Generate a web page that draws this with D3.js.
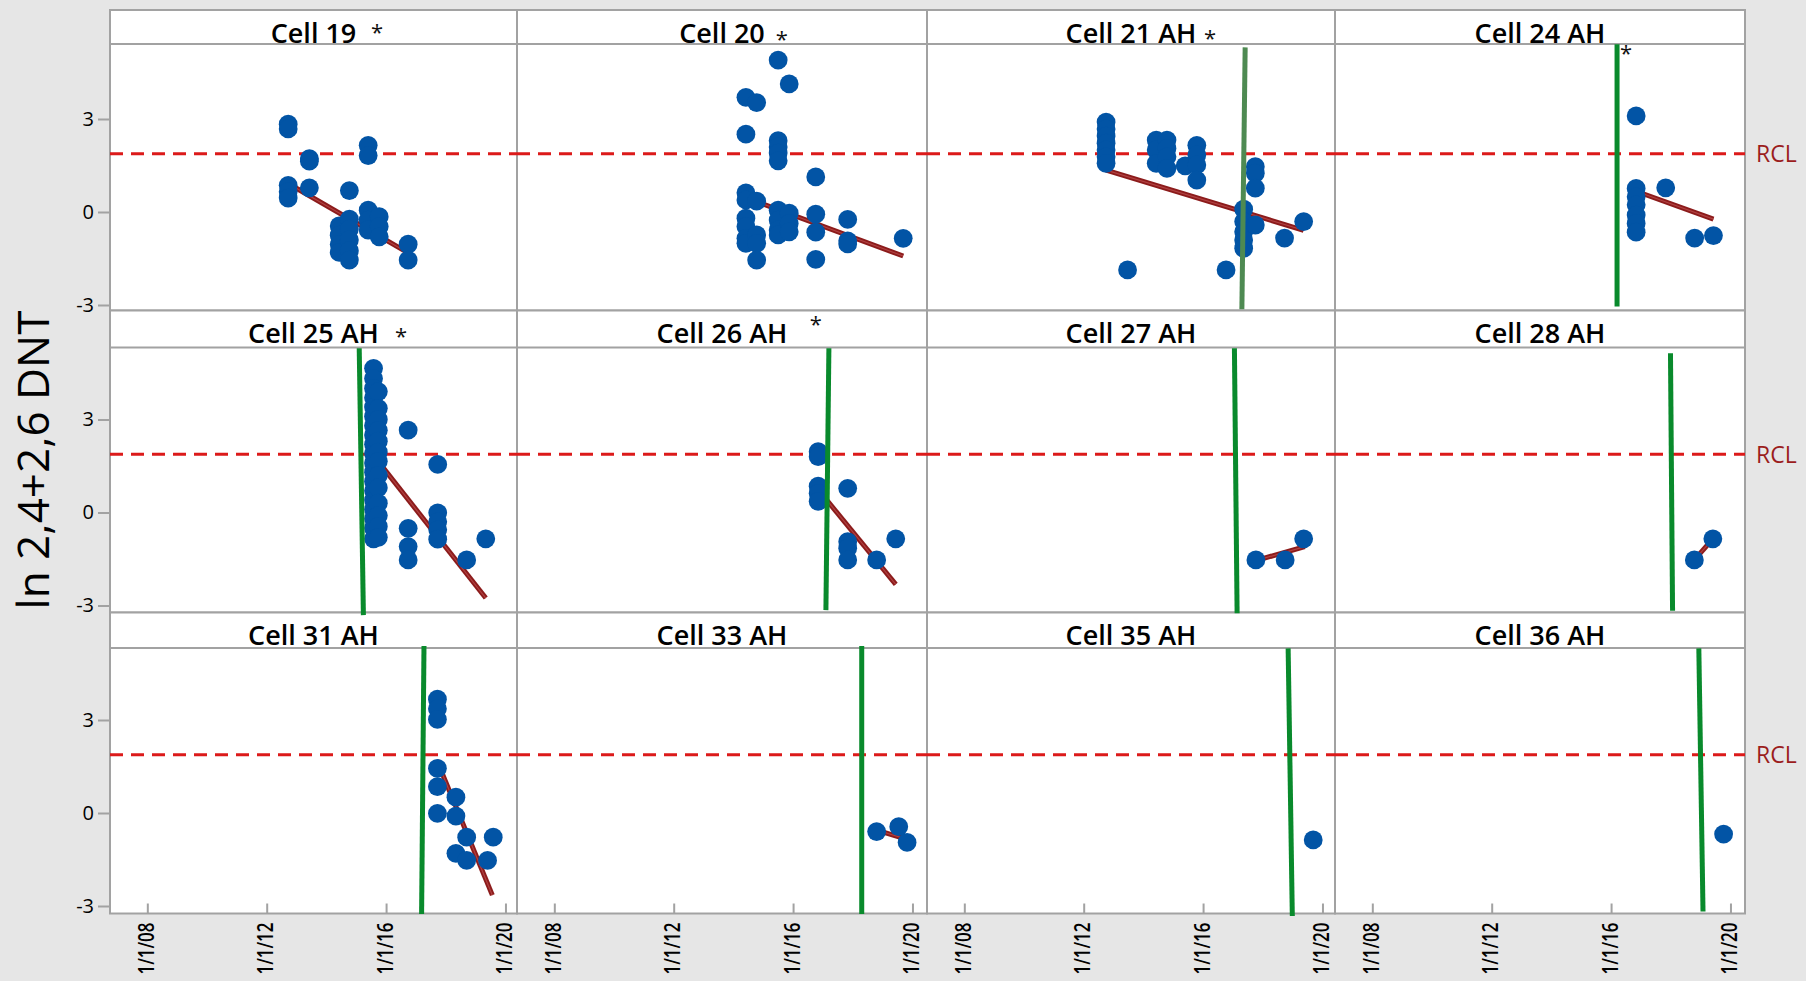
<!DOCTYPE html>
<html>
<head>
<meta charset="utf-8">
<script src="https://cdn.jsdelivr.net/npm/d3@7"></script>
<style>
  html, body { margin: 0; padding: 0; background: #e6e6e6; }
  svg { display: block; font-family: "Open Sans", "Noto Sans", sans-serif; }
</style>
</head>
<body>
<svg id="chart" width="1806" height="981"></svg>
<script>
// ---- data -------------------------------------------------------------
const cells = ["Cell 19", "Cell 20", "Cell 21 AH", "Cell 24 AH",
               "Cell 25 AH", "Cell 26 AH", "Cell 27 AH", "Cell 28 AH",
               "Cell 31 AH", "Cell 33 AH", "Cell 35 AH", "Cell 36 AH"];

// [decimal year, ln(2,4+2,6 DNT)]
const cell19 = [[2012.72, 2.83], [2012.72, 2.68], [2012.72, 0.86], [2012.72, 0.65], [2012.72, 0.45],
  [2013.43, 1.72], [2013.43, 1.64], [2013.43, 0.78],
  [2014.43, -0.45], [2014.43, -0.75], [2014.43, -1.05], [2014.43, -1.30],
  [2014.77, 0.69], [2014.77, -0.23], [2014.77, -0.55], [2014.77, -0.90], [2014.77, -1.25], [2014.77, -1.55],
  [2015.40, 2.15], [2015.40, 1.82], [2015.40, 0.06], [2015.40, -0.26], [2015.40, -0.58],
  [2015.77, -0.15], [2015.77, -0.47], [2015.77, -0.80],
  [2016.74, -1.04], [2016.74, -1.55]];
const cell20 = [[2015.50, 4.90], [2015.87, 4.13], [2014.42, 3.70], [2014.78, 3.53], [2014.42, 2.51],
  [2015.50, 2.30], [2015.50, 2.10], [2015.50, 1.90], [2015.50, 1.65], [2016.76, 1.13],
  [2014.42, 0.62], [2014.42, 0.39], [2014.42, -0.20], [2014.42, -0.47], [2014.42, -0.85], [2014.42, -1.01],
  [2014.78, 0.35], [2014.78, -0.74], [2014.78, -1.01], [2014.78, -1.55],
  [2015.50, 0.06], [2015.50, -0.26], [2015.50, -0.58], [2015.50, -0.74],
  [2015.87, -0.04], [2015.87, -0.37], [2015.87, -0.64],
  [2016.76, -0.07], [2016.76, -0.65], [2016.76, -1.53],
  [2017.83, -0.24], [2017.83, -0.93], [2017.83, -1.03], [2019.69, -0.85]];
const cell21 = [[2012.75, 2.90], [2012.75, 2.68], [2012.75, 2.45], [2012.75, 2.22], [2012.75, 2.00], [2012.75, 1.78], [2012.75, 1.57],
  [2014.43, 2.32], [2014.43, 2.00], [2014.43, 1.57],
  [2014.79, 2.32], [2014.79, 2.05], [2014.79, 1.78], [2014.79, 1.41],
  [2015.40, 1.49], [2015.79, 2.15], [2015.79, 1.84], [2015.79, 1.52], [2015.79, 1.03],
  [2013.47, -1.87], [2016.77, -1.87],
  [2017.75, 1.46], [2017.75, 1.25], [2017.75, 0.77],
  [2017.36, 0.09], [2017.36, -0.31], [2017.36, -0.64], [2017.36, -0.90], [2017.36, -1.17],
  [2017.75, -0.42], [2018.73, -0.84], [2019.37, -0.31]];
const cell24 = [[2016.84, 3.10], [2016.84, 0.76], [2016.84, 0.49], [2016.84, 0.23], [2016.84, -0.10], [2016.84, -0.37], [2016.84, -0.65],
  [2017.83, 0.78], [2018.80, -0.84], [2019.43, -0.76]];
const cell25 = [[2015.58, 4.65], [2015.58, 4.32], [2015.58, 4.00], [2015.58, 3.70], [2015.58, 3.40], [2015.58, 3.10],
  [2015.58, 2.80], [2015.58, 2.50], [2015.58, 2.20], [2015.58, 1.90], [2015.58, 1.60], [2015.58, 1.30],
  [2015.58, 1.00], [2015.58, 0.70], [2015.58, 0.40], [2015.58, 0.10], [2015.58, -0.20], [2015.58, -0.50], [2015.58, -0.85],
  [2015.74, 3.90], [2015.74, 3.36], [2015.74, 3.00], [2015.74, 2.65], [2015.74, 2.30], [2015.74, 1.95], [2015.74, 1.65],
  [2015.74, 1.20], [2015.74, 0.80], [2015.74, 0.30], [2015.74, -0.10], [2015.74, -0.45], [2015.74, -0.80],
  [2016.74, 2.66], [2017.73, 1.55], [2016.74, -0.51], [2016.74, -1.10], [2016.74, -1.53],
  [2017.73, -0.01], [2017.73, -0.30], [2017.73, -0.56], [2017.73, -0.86], [2018.70, -1.53], [2019.34, -0.85]];
const cell26 = [[2016.84, 1.96], [2016.84, 1.80], [2016.84, 0.85], [2016.84, 0.62], [2016.84, 0.36],
  [2017.83, 0.78], [2017.83, -0.94], [2017.83, -1.15], [2017.83, -1.53], [2018.80, -1.53], [2019.44, -0.85]];
const cell27 = [[2017.77, -1.53], [2018.75, -1.53], [2019.37, -0.85]];
const cell28 = [[2018.79, -1.53], [2019.41, -0.85]];
const cell31 = [[2017.72, 3.67], [2017.72, 3.36], [2017.72, 3.02], [2017.72, 1.44], [2017.72, 0.85], [2017.72, -0.01],
  [2018.34, 0.51], [2018.34, -0.10], [2018.34, -1.30], [2018.70, -0.78], [2018.70, -1.53],
  [2019.40, -1.53], [2019.59, -0.78]];
const cell33 = [[2018.80, -0.60], [2019.54, -0.44], [2019.82, -0.95]];
const cell35 = [[2019.69, -0.87]];
const cell36 = [[2019.77, -0.68]];

// trend segments: [cell, year0, value0, year1, value1]
const trendLines = [
  ["Cell 19", 2012.72, 0.92, 2016.74, -1.32],
  ["Cell 20", 2014.42, 0.46, 2019.69, -1.42],
  ["Cell 21 AH", 2012.75, 1.35, 2019.37, -0.59],
  ["Cell 24 AH", 2016.84, 0.67, 2019.43, -0.23],
  ["Cell 25 AH", 2015.57, 1.85, 2019.34, -2.76],
  ["Cell 26 AH", 2016.84, 0.74, 2019.44, -2.32],
  ["Cell 27 AH", 2017.77, -1.55, 2019.41, -1.10],
  ["Cell 28 AH", 2018.79, -1.53, 2019.41, -0.85],
  ["Cell 31 AH", 2017.70, 1.70, 2019.56, -2.65],
  ["Cell 33 AH", 2018.80, -0.55, 2019.82, -0.85]
];

// change markers: [cell, yearTop, valueTop, yearBottom, valueBottom]
const changeLines = [
  ["Cell 21 AH", 2017.41, 5.31, 2017.30, -3.14],
  ["Cell 24 AH", 2016.20, 5.41, 2016.20, -3.05],
  ["Cell 25 AH", 2015.10, 5.30, 2015.24, -3.31],
  ["Cell 26 AH", 2017.20, 5.30, 2017.10, -3.15],
  ["Cell 27 AH", 2017.05, 5.30, 2017.14, -3.25],
  ["Cell 28 AH", 2017.99, 5.14, 2018.06, -3.17],
  ["Cell 31 AH", 2017.27, 5.39, 2017.19, -3.26],
  ["Cell 33 AH", 2018.30, 5.39, 2018.30, -3.26],
  ["Cell 35 AH", 2018.85, 5.31, 2018.99, -3.32],
  ["Cell 36 AH", 2018.94, 5.31, 2019.08, -3.18]
];

// asterisk flags: [cell, year, value]
const flags = [
  ["Cell 19", 2015.70, 5.94],
  ["Cell 20", 2015.62, 5.71],
  ["Cell 21 AH", 2016.23, 5.76],
  ["Cell 24 AH", 2016.50, 5.28],
  ["Cell 25 AH", 2016.50, 5.83],
  ["Cell 26 AH", 2016.76, 6.21]
];

const rcl = 1.88;
const yTicks = [-3, 0, 3];
const yTickLabels = ["-3", "0", "3"];
const xTicks = [2008, 2012, 2016, 2020];
const xTickLabels = ["1/1/08", "1/1/12", "1/1/16", "1/1/20"];
const yTitle = "ln 2,4+2,6 DNT";

const pointsByCell = new Map([
  ["Cell 19", cell19], ["Cell 20", cell20], ["Cell 21 AH", cell21], ["Cell 24 AH", cell24],
  ["Cell 25 AH", cell25], ["Cell 26 AH", cell26], ["Cell 27 AH", cell27], ["Cell 28 AH", cell28],
  ["Cell 31 AH", cell31], ["Cell 33 AH", cell33], ["Cell 35 AH", cell35], ["Cell 36 AH", cell36]
]);

// ---- layout -----------------------------------------------------------
const W = 1806, H = 981;
const colLeft = [110, 517, 927, 1335];
const colRight = [517, 927, 1335, 1745];
const stripTop = [10, 310.5, 612.5];
const dataTop = [44, 347.5, 648];
const dataBottom = [310.5, 612.5, 913.5];
const tickTopY = [119, 419.5, 720];   // pixel row of the upper (3) tick in each row
const unitPx = 31;

const frameColor = "#a2a2a2";
const pointColor = "#0254a5";
const trendColor = "#8c1b1b";
const rclColor = "#dc1a1a";
const greenColor = "#098a2c";
const greenMuted = "#4e8a52";
const fontStack = "'Open Sans','Noto Sans',sans-serif";

const xScales = colLeft.map(l => d3.scaleLinear().domain([2006.75, 2020.42]).range([l, l + 408]));
const yScales = tickTopY.map(t => d3.scaleLinear().domain([-3, 3]).range([t + 6 * unitPx, t]));

const svg = d3.select("#chart");
svg.append("rect").attr("width", W).attr("height", H).attr("fill", "#e6e6e6");

const panelInfo = cells.map((name, i) => {
  const r = Math.floor(i / 4), c = i % 4;
  return { name, r, c, x: xScales[c], y: yScales[r] };
});

// panel backgrounds and frames
const frames = svg.append("g");
panelInfo.forEach(p => {
  frames.append("rect")
    .attr("x", colLeft[p.c]).attr("y", stripTop[p.r])
    .attr("width", colRight[p.c] - colLeft[p.c]).attr("height", dataBottom[p.r] - stripTop[p.r])
    .attr("fill", "#ffffff").attr("stroke", frameColor).attr("stroke-width", 2);
  frames.append("line")
    .attr("x1", colLeft[p.c]).attr("x2", colRight[p.c])
    .attr("y1", dataTop[p.r]).attr("y2", dataTop[p.r])
    .attr("stroke", frameColor).attr("stroke-width", 2);
});

// reference control limit
const rclG = svg.append("g");
panelInfo.forEach(p => {
  rclG.append("line")
    .attr("x1", colLeft[p.c]).attr("x2", colRight[p.c])
    .attr("y1", p.y(rcl)).attr("y2", p.y(rcl))
    .attr("stroke", rclColor).attr("stroke-width", 3)
    .attr("stroke-dasharray", "13,8");
});
[0, 1, 2].forEach(r => {
  svg.append("text")
    .attr("x", 1756).attr("y", yScales[r](rcl))
    .attr("dy", "0.36em")
    .attr("font-size", 23).attr("font-weight", 500).attr("fill", "#9b1d1d")
    .text("RCL");
});

const byName = new Map(panelInfo.map(p => [p.name, p]));

// trend lines
const trendG = svg.append("g");
trendLines.forEach(([cell, x0, v0, x1, v1]) => {
  const p = byName.get(cell);
  const seg = trendG.append("g");
  seg.append("line")
    .attr("x1", p.x(x0)).attr("y1", p.y(v0)).attr("x2", p.x(x1)).attr("y2", p.y(v1))
    .attr("stroke", trendColor).attr("stroke-width", 5);
  seg.append("line")
    .attr("x1", p.x(x0)).attr("y1", p.y(v0)).attr("x2", p.x(x1)).attr("y2", p.y(v1))
    .attr("stroke", "#b04141").attr("stroke-width", 1.2);
});

// observations
const ptsG = svg.append("g");
panelInfo.forEach(p => {
  ptsG.append("g").selectAll("circle")
    .data(pointsByCell.get(p.name))
    .join("circle")
    .attr("cx", d => p.x(d[0]))
    .attr("cy", d => p.y(d[1]))
    .attr("r", 9.4)
    .attr("fill", pointColor);
});

// change markers
const chG = svg.append("g");
changeLines.forEach(([cell, xt, vt, xb, vb]) => {
  const p = byName.get(cell);
  chG.append("line")
    .attr("x1", p.x(xt)).attr("y1", p.y(vt)).attr("x2", p.x(xb)).attr("y2", p.y(vb))
    .attr("stroke", cell === "Cell 21 AH" ? greenMuted : greenColor)
    .attr("stroke-width", 5);
});

// asterisk flags
flags.forEach(([cell, yr, v]) => {
  const p = byName.get(cell);
  svg.append("text")
    .attr("x", p.x(yr)).attr("y", p.y(v))
    .attr("dy", "0.56em")
    .attr("text-anchor", "middle")
    .attr("font-size", 22).attr("fill", "#111")
    .text("*");
});

// strip titles
panelInfo.forEach(p => {
  svg.append("text")
    .attr("x", (colLeft[p.c] + colRight[p.c]) / 2)
    .attr("y", stripTop[p.r] + 32.5)
    .attr("text-anchor", "middle")
    .attr("font-size", 27).attr("font-weight", 600).attr("fill", "#000")
    .text(p.name);
});

// y axes (left column)
[0, 1, 2].forEach(r => {
  const ax = svg.append("g")
    .attr("transform", `translate(${colLeft[0]},0)`)
    .call(d3.axisLeft(yScales[r]).tickValues(yTicks).tickSize(12).tickPadding(4)
      .tickFormat((d, i) => yTickLabels[i]));
  ax.select(".domain").remove();
  ax.selectAll(".tick line").attr("stroke", frameColor).attr("stroke-width", 2);
  ax.selectAll(".tick text").attr("font-size", 20).attr("font-weight", 500)
    .attr("fill", "#000").attr("font-family", fontStack);
});

// x axes (bottom row), ticks pointing into the panel
[0, 1, 2, 3].forEach(c => {
  const ax = svg.append("g")
    .attr("transform", `translate(0,${dataBottom[2]})`)
    .call(d3.axisTop(xScales[c]).tickValues(xTicks).tickSize(10).tickFormat((d, i) => xTickLabels[i]));
  ax.select(".domain").remove();
  ax.selectAll(".tick line").attr("stroke", frameColor).attr("stroke-width", 2);
  ax.selectAll(".tick text")
    .attr("transform", "rotate(-90)")
    .attr("x", -9).attr("y", 0).attr("dy", "0.28em")
    .attr("text-anchor", "end")
    .attr("font-size", 21.5).attr("font-weight", 600)
    .attr("textLength", 52).attr("lengthAdjust", "spacingAndGlyphs")
    .attr("fill", "#000").attr("font-family", fontStack);
});

// y title
svg.append("text")
  .attr("transform", "translate(49,460) rotate(-90)")
  .attr("text-anchor", "middle")
  .attr("font-size", 44).attr("font-weight", 500).attr("fill", "#000")
  .text(yTitle);
</script>
</body>
</html>
